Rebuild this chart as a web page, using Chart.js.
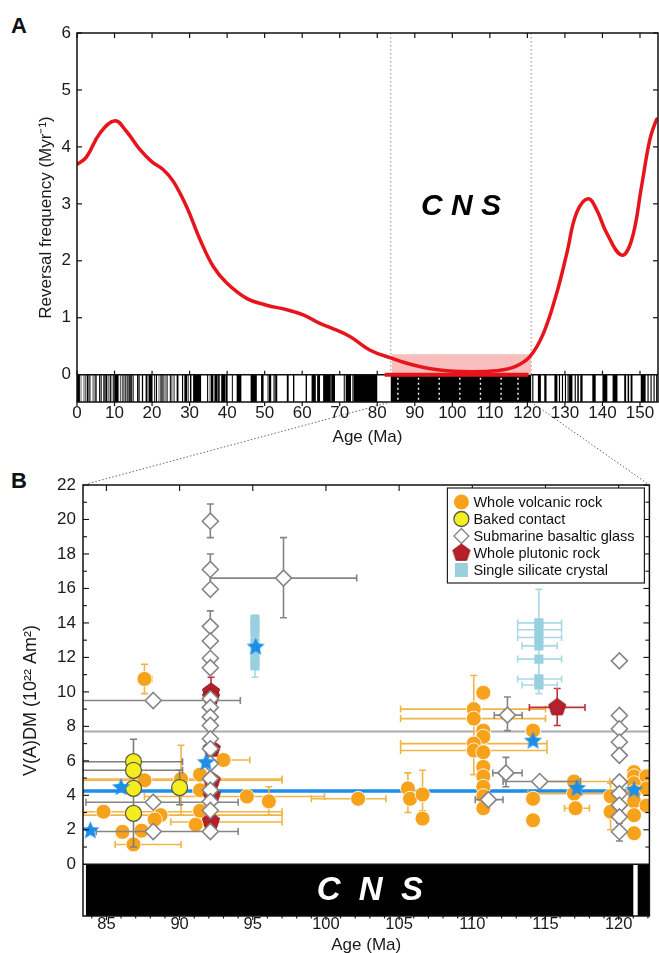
<!DOCTYPE html>
<html lang="en">
<head>
<meta charset="UTF-8" />
<title>Reversal frequency and V(A)DM during the CNS</title>
<script src="https://cdn.jsdelivr.net/npm/chart.js"></script>
<style>
  html, body { margin: 0; padding: 0; background: #fff; }
  body { width: 659px; height: 953px; position: relative; overflow: hidden;
         font-family: 'Liberation Sans', Arial, Helvetica, sans-serif; }
  canvas { position: absolute; left: 0; }
  #chartA { top: 0; }
  #chartB { top: 395px; }
  .tag { position: absolute; left: 11px; font-weight: bold; font-size: 22px; line-height: 22px; color: #111; }
</style>
</head>
<body>
  <div class="tag" style="top:15px">A</div>
  <div class="tag" style="top:470px">B</div>
  <canvas id="chartA" width="659" height="460"></canvas>
  <canvas id="chartB" width="659" height="558"></canvas>

<script>
// ---------- panel A: reversal frequency ----------
const freqAge   = [0, 2.5, 6.1, 10.1, 13.2, 16.8, 19.9, 23.0, 25.7, 29.2, 32.8, 36.3, 39.9, 45.2, 50.5,
                   55.9, 60.3, 64.7, 67.4, 72.7, 78.1, 83.8, 89.6, 96.7, 104.7, 111.8, 116.7, 120.7,
                   124.3, 127.8, 130.5, 133.1, 136.2, 138.5, 141.1, 145.1, 147.8, 150.4, 152.6, 154.4, 154.8];
const freqValue = [3.69, 3.82, 4.24, 4.46, 4.27, 3.95, 3.74, 3.6, 3.39, 2.95, 2.37, 1.9, 1.61, 1.34, 1.22,
                   1.14, 1.05, 0.9, 0.83, 0.67, 0.43, 0.29, 0.17, 0.08, 0.05, 0.07, 0.14, 0.32,
                   0.73, 1.43, 2.13, 2.84, 3.09, 2.89, 2.49, 2.1, 2.37, 3.3, 4.12, 4.48, 4.5];
const bandAge   = [83.8, 121.0];     // pink band over the CNS
const bandTop   = [0.36, 0.36];
const zeroAge   = [82.0, 120.3];     // thick red segment at zero frequency
const cnsLimits = [83.6, 121.0];
const ageTicksA = [0, 10, 20, 30, 40, 50, 60, 70, 80, 90, 100, 110, 120, 130, 140, 150];
const freqTicks = [0, 1, 2, 3, 4, 5, 6];

// normal polarity intervals (Ma), black in the bar
const normalChrons = [
  [0, 0.78], [0.99, 1.07], [1.77, 1.95], [2.14, 2.15], [2.58, 3.04], [3.11, 3.22], [3.33, 3.58],
  [4.18, 4.29], [4.48, 4.62], [4.8, 4.89], [4.98, 5.23], [5.89, 6.14], [6.27, 6.57], [6.94, 7.09],
  [7.14, 7.17], [7.34, 7.38], [7.43, 7.56], [7.65, 8.07], [8.23, 8.26], [8.7, 9.03], [9.23, 9.31],
  [9.58, 9.64], [9.74, 9.88], [9.92, 10.95], [11.05, 11.1], [11.48, 11.53], [11.94, 12.08],
  [12.18, 12.4], [12.68, 12.71], [12.78, 12.82], [12.99, 13.14], [13.3, 13.51], [13.7, 14.08],
  [14.18, 14.61], [14.8, 14.89], [15.03, 15.16], [16.01, 16.29], [16.33, 16.49], [16.56, 16.73],
  [17.28, 17.62], [18.28, 18.78], [19.05, 20.13], [20.52, 20.73], [21.0, 21.32], [21.77, 21.86],
  [22.15, 22.25], [22.46, 22.49], [22.59, 22.75], [22.8, 23.07], [23.35, 23.54], [23.68, 23.8],
  [24.0, 24.12], [24.73, 24.78], [24.84, 25.18], [25.5, 25.65], [25.82, 25.95], [26.55, 27.03],
  [27.97, 28.28], [28.51, 28.58], [28.75, 29.4], [29.66, 29.77], [30.1, 30.48], [30.94, 33.06],
  [34.66, 34.94], [35.34, 35.53], [35.69, 36.34], [36.62, 37.47], [37.6, 37.85], [37.92, 38.11],
  [38.43, 39.55], [39.63, 40.13], [41.26, 41.52], [42.54, 43.79], [46.26, 47.91], [49.04, 49.71],
  [50.78, 50.95], [51.05, 51.74], [52.36, 52.66], [52.76, 52.8], [52.9, 53.35], [55.9, 56.39],
  [57.55, 57.91], [60.92, 61.28], [62.5, 63.63], [63.98, 64.75], [65.58, 67.61], [67.74, 68.74],
  [71.07, 71.34], [71.59, 73.0], [73.29, 73.37], [73.62, 80.0], [83.6, 121.0],
  [121.3, 121.6], [122.8, 123.6], [124.5, 125.1], [127.2, 128.0], [128.4, 128.7], [129.2, 129.5],
  [130.0, 130.3], [130.7, 131.0], [131.1, 132.0], [132.6, 132.9], [133.3, 133.7], [134.1, 134.7],
  [137.3, 138.2], [140.0, 141.3], [142.7, 144.0], [145.8, 146.3], [146.7, 147.1], [147.5, 148.0],
  [150.2, 151.5], [152.0, 152.3], [152.8, 153.1], [153.6, 153.9], [154.3, 154.6]
];
const cryptochrons = [85.5, 91, 96.5, 102, 107.5, 113, 117.5];

// ---------- panel B: V(A)DM, rows are [age, VADM, ageLo, ageHi, vadmLo, vadmHi] ----------
const volcanic = [
  [87.6, 10.75, 87.2, 88.1, 9.9, 11.6], [93.0, 6.05, 91.9, 94.8], [87.6, 4.87, 83.4, 97.0],
  [90.1, 4.95, 83.4, 97.0, 2.85, 6.9], [84.8, 3.05, 83.4, 97.0], [88.7, 2.85, 83.4, 97.0],
  [88.3, 2.6], [92.0, 2.45, 89.4, 97.0], [86.1, 1.88], [87.4, 1.95], [86.85, 1.15, 85.6, 90.1],
  [91.1, 2.3], [91.4, 3.1], [91.4, 4.3], [91.4, 5.2], [94.6, 3.93, 87.6, 99.9],
  [96.1, 3.65, null, null, 2.85, 4.5], [102.2, 3.8, 99.0, 104.1],
  [105.6, 4.4, null, null, 3.0, 5.3], [105.75, 3.8], [106.6, 4.05, null, null, 3.1, 5.45], [106.6, 2.65],
  [110.75, 9.95], [110.1, 9.0, 105.1, 115.0], [110.1, 8.45, 105.1, 115.0, 5.2, 10.95],
  [110.75, 7.75], [110.75, 7.4], [110.1, 7.0, 105.1, 115.1], [110.1, 6.6, 105.1, 115.1],
  [110.75, 6.5], [110.75, 5.65], [110.75, 5.1], [110.75, 4.5], [110.75, 3.95], [110.75, 3.25],
  [114.15, 7.75], [114.15, 3.8], [114.15, 2.55],
  [116.95, 4.8, 115.0, 119.4], [116.95, 4.1, 113.8, 119.4], [117.05, 3.25, 116.3, 118.0],
  [119.45, 3.95, null, null, 3.2, 4.7], [119.45, 3.05, null, null, 2.0, 3.6],
  [121.05, 5.35], [121.05, 5.1], [121.05, 4.7], [121.05, 4.2], [121.05, 3.65], [121.05, 2.85], [121.05, 1.8],
  [121.9, 5.1], [121.9, 4.4], [121.9, 3.4]
];
const baked = [
  [86.85, 5.95, 83.4, 90.2], [86.85, 5.45, 83.4, 90.2], [86.85, 4.4, null, null, 1.0, 7.25],
  [86.85, 2.95], [90.0, 4.45, null, null, 3.45, 5.45]
];
const glass = [
  [92.1, 19.9, null, null, 18.95, 20.9], [92.1, 17.1, null, null, 16.2, 18.0], [92.1, 15.95],
  [92.1, 13.8, null, null, 12.9, 14.7], [92.1, 12.95], [92.1, 11.95], [92.1, 11.4],
  [88.2, 9.5, 82.0, 94.15], [92.1, 9.6], [92.1, 9.1], [92.1, 8.55], [92.1, 8.05], [92.1, 7.28],
  [92.1, 6.7], [92.1, 5.84], [92.1, 4.97], [92.1, 4.3], [92.1, 3.64], [92.1, 3.12], [92.1, 1.9],
  [88.2, 3.6, 83.6, 94.0], [88.2, 1.9, 84.3, 94.0], [97.1, 16.6, 92.1, 102.1, 14.3, 18.95],
  [112.4, 8.65, 111.5, 113.4, 7.75, 9.7], [112.3, 5.3, 111.4, 113.4, 4.5, 6.2],
  [114.6, 4.8, 112.1, 117.4], [111.1, 3.75, 110.2, 112.1],
  [120.05, 11.8], [120.05, 8.63], [120.05, 7.86], [120.05, 7.09], [120.05, 6.32], [120.05, 4.78],
  [120.05, 4.1], [120.05, 3.43], [120.05, 2.75], [120.05, 1.89, null, null, 1.35, 2.4]
];
const plutonic = [
  [115.8, 9.1, 113.9, 117.7, 8.05, 10.2], [92.15, 10.0, null, null, 9.4, 10.85], [92.15, 9.7],
  [92.2, 6.7], [92.2, 4.85], [92.2, 4.0], [92.15, 2.5]
];
const crystal = [
  [95.15, 14.2], [95.15, 13.8], [95.15, 13.45], [95.15, 12.9], [95.15, 12.3], [95.15, 11.8],
  [95.15, 11.5, null, null, 10.85, 14.45],
  [114.55, 14.0, 113.1, 116.1], [114.55, 13.6, 113.1, 116.1], [114.55, 13.15, 113.1, 116.1],
  [114.55, 12.67, 113.4, 115.8], [114.55, 11.9, 113.1, 116.1], [114.55, 10.75, 113.1, 116.1],
  [114.55, 10.4, 113.4, 115.8, 9.9, 15.95]
];
const meanAge  = [83.9, 86.0, 91.8, 95.2, 114.15, 117.15, 121.05];
const meanVadm = [1.95, 4.45, 5.9, 12.6, 7.15, 4.4, 4.3];
const meanAll   = 4.25;   // blue line
const meanGlass = 7.7;    // grey line
const ageTicksB = [85, 90, 95, 100, 105, 110, 115, 120];
const vadmTicks = [0, 2, 4, 6, 8, 10, 12, 14, 16, 18, 20, 22];
const normalB   = [[83.6, 121.0], [121.3, 122.1]];
const legendLabels = ['Whole volcanic rock', 'Baked contact', 'Submarine basaltic glass',
                      'Whole plutonic rock', 'Single silicate crystal'];

// ---------- helpers ----------
const FONT = "'Liberation Sans', Arial, Helvetica, sans-serif";
Chart.defaults.font.family = FONT;
Chart.defaults.color = '#1a1a1a';
Chart.defaults.animation = false;
Chart.defaults.plugins.legend.display = false;
Chart.defaults.plugins.tooltip.enabled = false;

const ORANGE = '#F7A21B', YELLOW = '#F4EE1E', GREY = '#858585', RED = '#B5202A',
      CYAN = '#98D0E0', BLUE = '#1C8EEA';

function seg(ctx, x0, y0, x1, y1) { ctx.beginPath(); ctx.moveTo(x0, y0); ctx.lineTo(x1, y1); ctx.stroke(); }
function pts(rows) { return rows.map(r => ({ x: r[0], y: r[1] })); }
function errs(rows) { return rows.map(r => r.slice(2)); }

function polygonImage(size, n, inner, fill, stroke) {
  const c = document.createElement('canvas');
  c.width = c.height = size;
  const g = c.getContext('2d'), r = size / 2 - 1;
  const k = inner ? n * 2 : n;
  g.beginPath();
  for (let i = 0; i < k; i++) {
    const rr = inner && i % 2 ? r * inner : r;
    const a = -Math.PI / 2 + i * 2 * Math.PI / k;
    g.lineTo(size / 2 + rr * Math.cos(a), size / 2 + rr * Math.sin(a));
  }
  g.closePath();
  g.fillStyle = fill; g.fill();
  if (stroke) { g.strokeStyle = stroke; g.lineWidth = 1; g.stroke(); }
  return c;
}
const starImg = polygonImage(21, 5, 0.45, BLUE);
const pentImg = polygonImage(20, 5, 0, RED, '#8c1a20');

// ---------- panel A ----------
const panelA = {
  id: 'panelA',
  beforeDatasetsDraw(chart) {
    const { ctx, chartArea: a, scales: { x, y } } = chart;
    const y0 = y.getPixelForValue(0), y1 = a.bottom;
    ctx.save();
    ctx.strokeStyle = '#8a8a8a'; ctx.lineWidth = 1; ctx.setLineDash([1.5, 2.5]);
    cnsLimits.forEach(v => { const p = x.getPixelForValue(v); seg(ctx, p, a.top, p, y0); });
    ctx.setLineDash([]);
    ctx.fillStyle = '#000';
    normalChrons.forEach(([s, e]) => {
      const p0 = x.getPixelForValue(s), p1 = x.getPixelForValue(Math.min(e, x.max));
      ctx.fillRect(p0, y0, Math.max(p1 - p0, 0.6), y1 - y0);
    });
    ctx.strokeStyle = '#fff'; ctx.lineWidth = 1.4; ctx.setLineDash([2, 3]);
    cryptochrons.forEach(v => { const p = x.getPixelForValue(v); seg(ctx, p, y0 + 3, p, y1 - 2); });
    ctx.setLineDash([]);
    ctx.strokeStyle = '#111'; ctx.lineWidth = 1.5;
    seg(ctx, a.left, y0, a.right, y0);
    ctx.lineWidth = 1.2;
    ageTicksA.forEach(v => {
      const p = x.getPixelForValue(v);
      seg(ctx, p, y0 - 4, p, y0);
      seg(ctx, p, y1, p, y1 + 4);
      seg(ctx, p, a.top, p, a.top + 5);
    });
    freqTicks.forEach(v => {
      if (v <= 0) return;
      const p = y.getPixelForValue(v);
      seg(ctx, a.left, p, a.left + 5, p);
      seg(ctx, a.right - 5, p, a.right, p);
    });
    ctx.restore();
  },
  afterDraw(chart) {
    const { ctx, chartArea: a, scales: { x, y } } = chart;
    ctx.save();
    ctx.strokeStyle = '#111'; ctx.lineWidth = 1.5;
    ctx.strokeRect(a.left, a.top, a.right - a.left, a.bottom - a.top);
    ctx.fillStyle = '#000';
    ctx.font = 'italic bold 30px ' + FONT;
    ctx.textAlign = 'center'; ctx.textBaseline = 'middle';
    ctx.fillText('C N S', x.getPixelForValue((cnsLimits[0] + cnsLimits[1]) / 2), y.getPixelForValue(2.95));
    ctx.restore();
  }
};

const chartA = new Chart(document.getElementById('chartA'), {
  type: 'line',
  data: {
    datasets: [
      { data: freqAge.map((a, i) => ({ x: a, y: freqValue[i] })), borderColor: '#E8141B', borderWidth: 3.5,
        pointRadius: 0, tension: 0.4, order: 1 },
      { data: zeroAge.map(a => ({ x: a, y: 0 })), borderColor: '#E8141B', borderWidth: 4, pointRadius: 0, order: 2 },
      { data: bandAge.map((a, i) => ({ x: a, y: bandTop[i] })), borderWidth: 0, pointRadius: 0,
        fill: 'origin', backgroundColor: '#F8BDBD', order: 3 }
    ]
  },
  options: {
    responsive: false,
    devicePixelRatio: 1,
    events: [],
    layout: { padding: { top: 33, right: 1, bottom: 0, left: 0 } },
    scales: {
      x: {
        type: 'linear', min: 0, max: 154.8,
        grid: { display: false, drawTicks: false }, border: { display: false },
        ticks: { padding: 1, font: { size: 17 }, maxRotation: 0, autoSkip: false },
        afterBuildTicks: s => { s.ticks = ageTicksA.map(v => ({ value: v })); },
        afterFit: s => { s.height = 58; },
        title: { display: true, text: 'Age (Ma)', font: { size: 17 }, padding: { top: 0, bottom: 12 } }
      },
      y: {
        min: -0.48, max: 6,
        grid: { display: false, drawTicks: false }, border: { display: false },
        ticks: { padding: 6, font: { size: 17 } },
        afterBuildTicks: s => { s.ticks = freqTicks.map(v => ({ value: v })); },
        afterFit: s => { s.width = 77; },
        title: { display: true, text: 'Reversal frequency (Myr\u207B\u00B9)', font: { size: 17 }, padding: { top: 36, bottom: 0 } }
      }
    }
  },
  plugins: [panelA]
});

// ---------- panel B ----------
const errorBars = {
  id: 'errorBars',
  beforeDatasetDraw(chart, args) {
    const ds = chart.data.datasets[args.index];
    if (!ds.errors) return;
    const { ctx, chartArea: a, scales: { x, y } } = chart;
    const cap = 3.5;
    ctx.save();
    ctx.beginPath(); ctx.rect(a.left, a.top, a.right - a.left, a.bottom - a.top); ctx.clip();
    ctx.strokeStyle = ds.errorColor; ctx.lineWidth = 1.6;
    ds.errors.forEach((e, i) => {
      const px = x.getPixelForValue(ds.data[i].x), py = y.getPixelForValue(ds.data[i].y);
      const [xlo, xhi, ylo, yhi] = e;
      [xlo, xhi].forEach(v => {
        if (v == null) return;
        const q = x.getPixelForValue(v);
        seg(ctx, q, py, px, py); seg(ctx, q, py - cap, q, py + cap);
      });
      [ylo, yhi].forEach(v => {
        if (v == null) return;
        const q = y.getPixelForValue(v);
        seg(ctx, px, q, px, py); seg(ctx, px - cap, q, px + cap, q);
      });
    });
    ctx.restore();
  }
};

function legendSymbol(ctx, i, cx, cy) {
  ctx.save();
  ctx.lineWidth = 1.3;
  if (i === 0 || i === 1) {
    ctx.beginPath(); ctx.arc(cx, cy, 7.5, 0, Math.PI * 2);
    ctx.fillStyle = i === 0 ? ORANGE : YELLOW; ctx.fill();
    if (i === 1) { ctx.strokeStyle = '#555'; ctx.stroke(); }
  } else if (i === 2) {
    ctx.beginPath(); ctx.moveTo(cx, cy - 7.5); ctx.lineTo(cx + 7.5, cy); ctx.lineTo(cx, cy + 7.5); ctx.lineTo(cx - 7.5, cy); ctx.closePath();
    ctx.fillStyle = '#fff'; ctx.fill(); ctx.strokeStyle = GREY; ctx.stroke();
  } else if (i === 3) {
    ctx.drawImage(pentImg, cx - 10, cy - 10);
  } else {
    ctx.fillStyle = CYAN; ctx.fillRect(cx - 6.5, cy - 7, 13, 14);
  }
  ctx.restore();
}

const panelB = {
  id: 'panelB',
  beforeDatasetsDraw(chart) {
    const { ctx, chartArea: a, scales: { x, y } } = chart;
    const y0 = y.getPixelForValue(0);
    ctx.save();
    ctx.fillStyle = '#000';
    normalB.forEach(([s, e]) => {
      const p0 = x.getPixelForValue(s), p1 = x.getPixelForValue(Math.min(e, x.max));
      ctx.fillRect(p0, y0, p1 - p0, a.bottom - y0);
    });
    ctx.strokeStyle = '#111'; ctx.lineWidth = 1.5;
    seg(ctx, a.left, y0, a.right, y0);
    ctx.restore();
  },
  afterDraw(chart) {
    const { ctx, chartArea: a, scales: { x, y } } = chart;
    const y0 = y.getPixelForValue(0);
    ctx.save();
    // frame and ticks
    ctx.strokeStyle = '#111'; ctx.lineWidth = 1.5;
    ctx.strokeRect(a.left, a.top, a.right - a.left, a.bottom - a.top);
    ctx.lineWidth = 1.1;
    for (let v = 1; v <= 22; v++) {
      const p = y.getPixelForValue(v), l = v % 2 ? 4 : 6;
      seg(ctx, a.left, p, a.left + l, p);
      seg(ctx, a.right - l, p, a.right, p);
    }
    for (let v = 84; v <= 122; v++) {
      const p = x.getPixelForValue(v), major = v % 5 === 0;
      seg(ctx, p, a.bottom, p, a.bottom + (major ? 4 : 2.5));
      if (major) seg(ctx, p, a.top, p, a.top + 6);
    }
    // CNS label in the bar
    ctx.fillStyle = '#fff';
    ctx.font = 'italic bold 33px ' + FONT;
    ctx.textAlign = 'center'; ctx.textBaseline = 'middle';
    ctx.fillText('C  N  S', x.getPixelForValue(103), (y0 + a.bottom) / 2 + 1);
    // legend
    const lx = a.right - 202, ly = a.top + 3, lw = 197, lh = 95;
    ctx.fillStyle = '#fff'; ctx.fillRect(lx, ly, lw, lh);
    ctx.strokeStyle = '#222'; ctx.lineWidth = 1.2; ctx.strokeRect(lx, ly, lw, lh);
    ctx.font = '14.5px ' + FONT; ctx.textAlign = 'left'; ctx.fillStyle = '#111';
    legendLabels.forEach((t, i) => {
      const cy = ly + 14 + i * 17;
      legendSymbol(ctx, i, lx + 14, cy);
      ctx.fillStyle = '#111';
      ctx.fillText(t, lx + 26, cy + 1);
    });
    // zoom connectors from panel A
    const dy = chart.canvas.offsetTop - chartA.canvas.offsetTop;
    const ax = chartA.scales.x, yA = chartA.chartArea.bottom - dy;
    ctx.strokeStyle = '#666'; ctx.lineWidth = 1; ctx.setLineDash([1.5, 2]);
    seg(ctx, ax.getPixelForValue(cnsLimits[0]), yA, a.left, a.top);
    seg(ctx, ax.getPixelForValue(cnsLimits[1]), yA, a.right, a.top);
    ctx.restore();
  }
};

const xMinB = 83.4, xMaxB = 122.1;
new Chart(document.getElementById('chartB'), {
  type: 'scatter',
  data: {
    datasets: [
      { type: 'line', data: [{ x: xMinB, y: meanAll }, { x: xMaxB, y: meanAll }], borderColor: BLUE,
        borderWidth: 3.5, pointRadius: 0, order: 9 },
      { type: 'line', data: [{ x: xMinB, y: meanGlass }, { x: xMaxB, y: meanGlass }], borderColor: '#ababab',
        borderWidth: 2, pointRadius: 0, order: 9 },
      { label: legendLabels[0], data: pts(volcanic), errors: errs(volcanic), errorColor: '#F2B445',
        pointStyle: 'circle', pointRadius: 7.5, backgroundColor: ORANGE, borderColor: 'rgba(255,255,255,0.85)',
        borderWidth: 1, clip: 0, order: 7 },
      { label: legendLabels[1], data: pts(baked), errors: errs(baked), errorColor: '#7d7d7d',
        pointStyle: 'circle', pointRadius: 8, backgroundColor: YELLOW, borderColor: '#5e5e4a', borderWidth: 1.3, order: 6 },
      { label: legendLabels[3], data: pts(plutonic), errors: errs(plutonic), errorColor: '#C0303A',
        pointStyle: pentImg, order: 5 },
      { label: legendLabels[2], data: pts(glass), errors: errs(glass), errorColor: GREY,
        pointStyle: 'rectRot', pointRadius: 8, backgroundColor: '#fff', borderColor: GREY, borderWidth: 1.6, order: 4 },
      { label: legendLabels[4], data: pts(crystal), errors: errs(crystal), errorColor: '#A9D8E7',
        pointStyle: 'rect', pointRadius: 6.5, backgroundColor: CYAN, borderWidth: 0, order: 3 },
      { data: meanAge.map((a, i) => ({ x: a, y: meanVadm[i] })), pointStyle: starImg, order: 1 }
    ]
  },
  options: {
    responsive: false,
    devicePixelRatio: 1,
    events: [],
    layout: { padding: { top: 90, right: 7, bottom: 0, left: 0 } },
    scales: {
      x: {
        type: 'linear', min: xMinB, max: xMaxB,
        grid: { display: false, drawTicks: false }, border: { display: false },
        ticks: { padding: -1, font: { size: 16.5 }, maxRotation: 0, autoSkip: false },
        afterBuildTicks: s => { s.ticks = ageTicksB.map(v => ({ value: v })); },
        afterFit: s => { s.height = 37; },
        title: { display: true, text: 'Age (Ma)', font: { size: 17 }, padding: { top: 0, bottom: -3 } }
      },
      y: {
        min: -3, max: 22,
        grid: { display: false, drawTicks: false }, border: { display: false },
        ticks: { padding: 7, font: { size: 17 } },
        afterBuildTicks: s => { s.ticks = vadmTicks.map(v => ({ value: v })); },
        afterFit: s => { s.width = 83; },
        title: { display: true, text: 'V(A)DM (10\u00B2\u00B2 Am\u00B2)', font: { size: 18 }, padding: { top: 20, bottom: 0 } }
      }
    }
  },
  plugins: [errorBars, panelB]
});
</script>
</body>
</html>
